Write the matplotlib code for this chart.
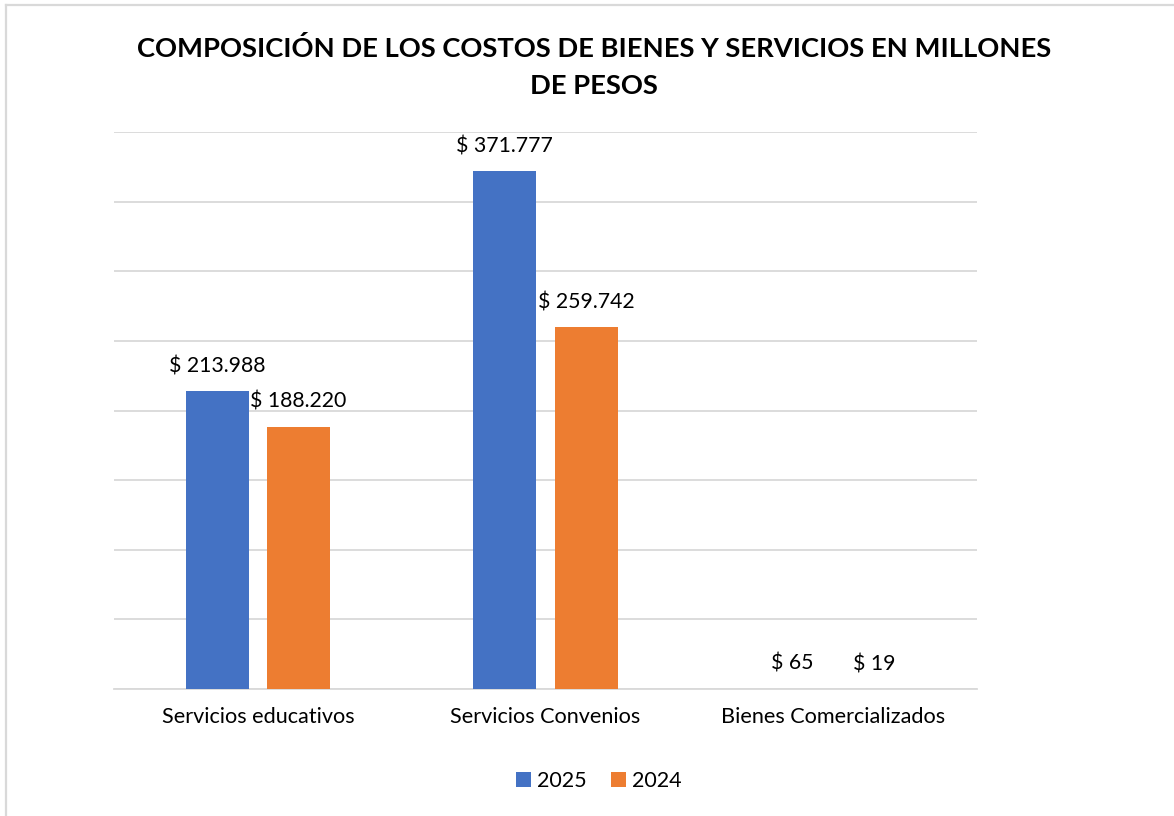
import matplotlib
matplotlib.use("Agg")
import matplotlib.pyplot as plt
from matplotlib.lines import Line2D
import numpy as np

plt.rcParams['font.family'] = ['Lato', 'DejaVu Sans']

categorias = ["Servicios educativos", "Servicios Convenios", "Bienes Comercializados"]
series = ["2025", "2024"]
valores_2025 = [213988, 371777, 65]
valores_2024 = [188220, 259742, 19]
colores = ["#4472C4", "#ED7D31"]
titulo = "COMPOSICIÓN DE LOS COSTOS DE BIENES Y SERVICIOS EN MILLONES\nDE PESOS"


def fmt(v):
    return "$ " + f"{v:,}".replace(",", ".")


fig = plt.figure(figsize=(11.74, 8.16), dpi=100)
ax = fig.add_axes([0.0971, 0.1556, 0.7351, 0.6826])

x = np.arange(len(categorias))
ancho = 0.219
desp = 0.1415

for vals, col, lab, d in zip([valores_2025, valores_2024], colores, series, [-desp, desp]):
    barras = ax.bar(x + d, vals, ancho, color=col, label=lab, zorder=3)
    for b, v in zip(barras, vals):
        ax.annotate(fmt(v), (b.get_x() + b.get_width() / 2, b.get_height()),
                    xytext=(0, 18), textcoords="offset points",
                    ha="center", va="center", fontsize=15.3, color="black")

ax.set_xlim(-0.5, 2.5)
ax.set_ylim(0, 400000)
ax.set_yticks(np.arange(0, 400001, 50000))
ax.yaxis.grid(True, color="#D9D9D9", linewidth=1.3, zorder=0)
ax.set_yticklabels([])
ax.tick_params(axis="y", length=0)
ax.tick_params(axis="x", length=0, pad=13, labelsize=15.6)
ax.set_xticks(x)
ax.set_xticklabels(categorias)
for s in ["top", "right", "left"]:
    ax.spines[s].set_visible(False)
ax.spines["bottom"].set_color("#D9D9D9")
ax.spines["bottom"].set_linewidth(1.3)

fig.text(0.506, 0.918, titulo, ha="center", va="center", fontsize=19.7,
         fontweight="bold", linespacing=1.62)

fig.legend(loc="center", bbox_to_anchor=(0.51, 0.043), ncol=2, frameon=False,
           fontsize=15.5, handlelength=0.7, handleheight=0.7,
           handletextpad=0.3, columnspacing=1.1)

# borde del grafico (solo arriba e izquierda visibles)
fig.add_artist(Line2D([0.005, 1.0], [0.9935, 0.9935], color="#D9D9D9", linewidth=1.6))
fig.add_artist(Line2D([0.005, 0.005], [0.0, 0.9935], color="#D9D9D9", linewidth=1.6))

fig.savefig("out.png", dpi=100)
